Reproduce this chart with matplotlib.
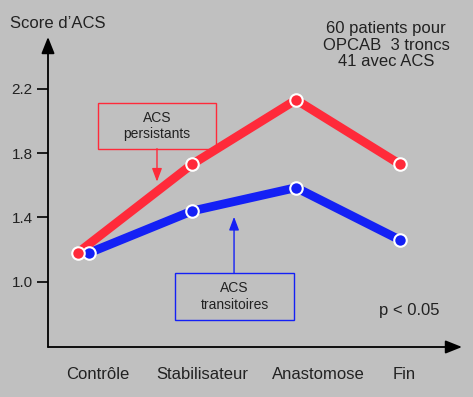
import matplotlib
matplotlib.use("Agg")
import matplotlib.pyplot as plt
from matplotlib.patches import Rectangle

plt.rcParams['font.family'] = ['Liberation Sans', 'DejaVu Sans']

# data
categories = ['Contrôle', 'Stabilisateur', 'Anastomose', 'Fin']
label_x = [0.09, 1.10, 2.21, 3.04]
red_x = [-0.10, 1, 2, 3]
red_y = [1.18, 1.73, 2.13, 1.73]
blue_x = [0.01, 1, 2, 3]
blue_y = [1.18, 1.44, 1.585, 1.26]
yticks = [1.0, 1.4, 1.8, 2.2]

BG = '#c0c0c0'
RED = '#ff2a3a'
BLUE = '#1420f5'
TXT = '#222222'

W, H = 473, 397
fig = plt.figure(figsize=(W / 100, H / 100), dpi=100, facecolor=BG)
ax = fig.add_axes([48 / W, (H - 347) / H, (462 - 48) / W, (347 - 37) / H])
ax.set_facecolor(BG)
ax.set_xlim(-0.385, 3.596)
ax.set_ylim(0.596, 2.52)

for s in ax.spines.values():
    s.set_visible(False)
ax.set_xticks([])
ax.set_yticks(yticks)
ax.set_yticklabels([f'{v:.1f}' for v in yticks], fontsize=11, color=TXT)
ax.tick_params(axis='y', length=8, width=1.2, color='black', pad=3)

# axes with arrows
ax.annotate('', xy=(1, 0), xytext=(0, 0), xycoords='axes fraction',
            arrowprops=dict(arrowstyle='-|>,head_length=1.0,head_width=0.4',
                            color='black', lw=1.3, shrinkA=0, shrinkB=0),
            annotation_clip=False)
ax.annotate('', xy=(0, 1), xytext=(0, 0), xycoords='axes fraction',
            arrowprops=dict(arrowstyle='-|>,head_length=1.0,head_width=0.4',
                            color='black', lw=1.3, shrinkA=0, shrinkB=0),
            annotation_clip=False)

# lines
ax.plot(red_x, red_y, color=RED, lw=6.3, solid_capstyle='butt', zorder=3)
ax.plot(blue_x, blue_y, color=BLUE, lw=6.3, solid_capstyle='butt', zorder=2)
ax.plot(blue_x, blue_y, 'o', ms=9, mfc=BLUE, mec='white', mew=1.5, zorder=4)
ax.plot(red_x, red_y, 'o', ms=9, mfc=RED, mec='white', mew=1.5, zorder=5)

# category labels
for x, lab in zip(label_x, categories):
    ax.text(x, -0.09, lab, transform=ax.get_xaxis_transform(), ha='center',
            va='center', fontsize=12, color=TXT)

# title-ish texts
fig.text(10 / W, 1 - 24 / H, "Score d\u2019ACS", ha='left', va='center',
         fontsize=12, color=TXT)
fig.text(386 / W, 1 - 45 / H, "60 patients pour\nOPCAB  3 troncs\n41 avec ACS",
         ha='center', va='center', fontsize=12, color=TXT, linespacing=1.1)
fig.text(409 / W, 1 - 311 / H, "p < 0.05", ha='center', va='center',
         fontsize=12, color=TXT)

# annotation boxes
ax.add_patch(Rectangle((0.096, 1.827), 1.135, 0.286, fill=False,
                       ec=RED, lw=1.0, zorder=6))
ax.text(0.663, 1.97, "ACS\npersistants", ha='center', va='center',
        fontsize=10, color=TXT, linespacing=1.2)
ax.annotate('', xy=(0.663, 1.622), xytext=(0.663, 1.827),
            arrowprops=dict(arrowstyle='-|>,head_length=0.8,head_width=0.3',
                            color=RED, lw=1.0, shrinkA=0, shrinkB=0))

ax.add_patch(Rectangle((0.837, 0.764), 1.144, 0.292, fill=False,
                       ec=BLUE, lw=1.0, zorder=6))
ax.text(1.409, 0.91, "ACS\ntransitoires", ha='center', va='center',
        fontsize=10, color=TXT, linespacing=1.2)
ax.annotate('', xy=(1.404, 1.404), xytext=(1.404, 1.056),
            arrowprops=dict(arrowstyle='-|>,head_length=0.8,head_width=0.3',
                            color=BLUE, lw=1.0, shrinkA=0, shrinkB=0))

fig.savefig('out.png', dpi=100, facecolor=BG)
